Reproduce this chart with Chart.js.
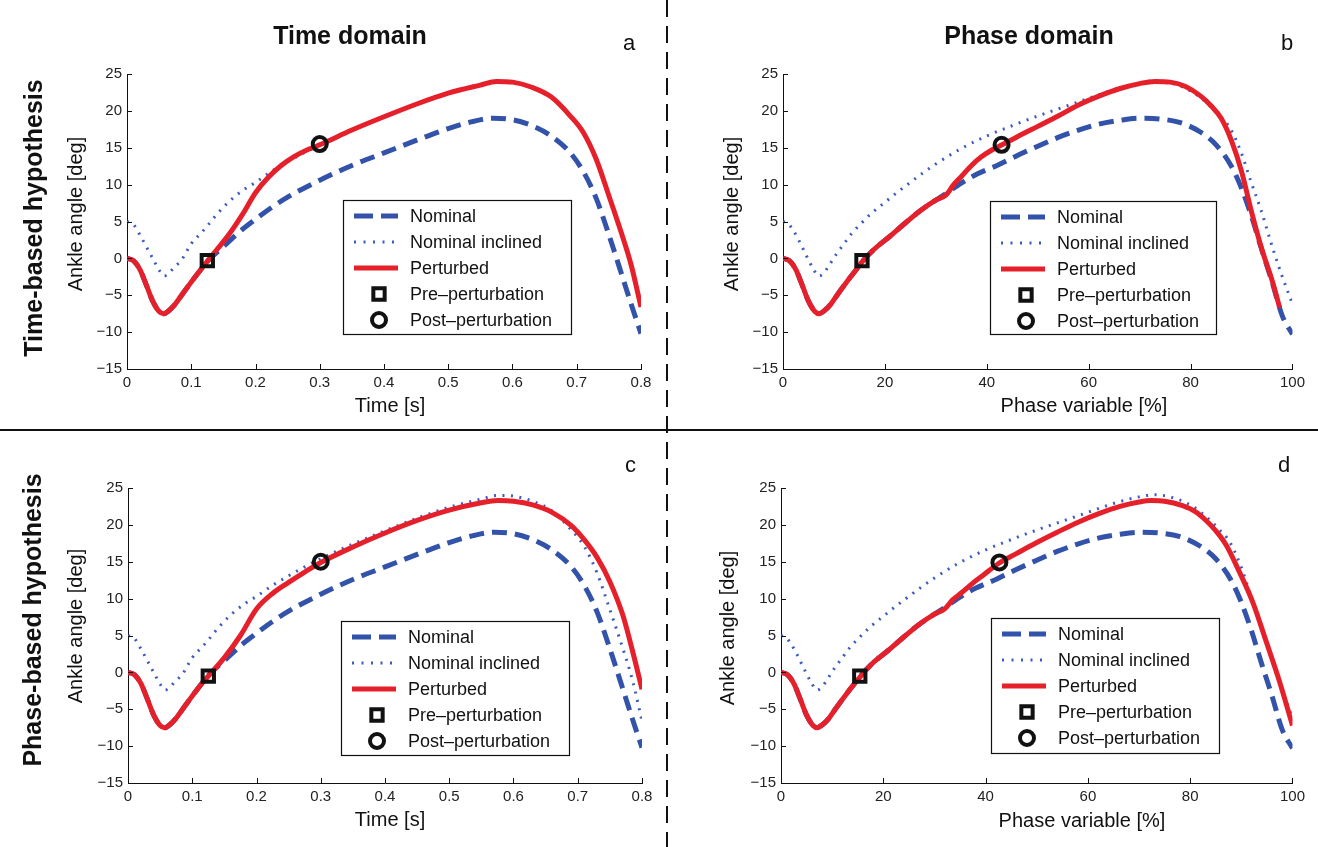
<!DOCTYPE html>
<html>
<head>
<meta charset="utf-8">
<script src="https://cdn.jsdelivr.net/npm/chart.js@4.4.1/dist/chart.umd.min.js"></script>
<style>
  body { margin: 0; background: #fff; }
  #page { position: relative; width: 1318px; height: 847px; overflow: hidden; background: #fff; }
  #page canvas { position: absolute; }
  #overlay { position: absolute; left: 0; top: 0; pointer-events: none; }
  #overlay text { font-family: 'Liberation Sans', Arial, sans-serif; fill: #111; }
</style>
</head>
<body>
<div id="page">
  <canvas id="pa" width="610" height="370" style="left:50px;top:55px"></canvas>
  <canvas id="pb" width="610" height="370" style="left:700px;top:55px"></canvas>
  <canvas id="pc" width="610" height="370" style="left:50px;top:469px"></canvas>
  <canvas id="pd" width="610" height="370" style="left:700px;top:469px"></canvas>
  <svg id="overlay" width="1318" height="847">
    <line x1="0" y1="430" x2="1318" y2="430" stroke="#111" stroke-width="2.2"/>
    <line x1="667" y1="0" x2="667" y2="847" stroke="#111" stroke-width="2" stroke-dasharray="17 9"/>
    <text x="350" y="44" text-anchor="middle" font-size="25" font-weight="bold">Time domain</text>
    <text x="1029" y="44" text-anchor="middle" font-size="25" font-weight="bold">Phase domain</text>
    <text x="623" y="50" font-size="22">a</text>
    <text x="1281" y="50" font-size="22">b</text>
    <text x="625" y="472" font-size="22">c</text>
    <text x="1278" y="472" font-size="22">d</text>
    <text transform="translate(42,218) rotate(-90)" text-anchor="middle" font-size="25" font-weight="bold">Time-based hypothesis</text>
    <text transform="translate(41,620) rotate(-90)" text-anchor="middle" font-size="25" font-weight="bold">Phase-based hypothesis</text>
    <text transform="translate(82,214) rotate(-90)" text-anchor="middle" font-size="20">Ankle angle [deg]</text>
    <text transform="translate(738,214) rotate(-90)" text-anchor="middle" font-size="20">Ankle angle [deg]</text>
    <text transform="translate(82,626) rotate(-90)" text-anchor="middle" font-size="20">Ankle angle [deg]</text>
    <text transform="translate(734,628) rotate(-90)" text-anchor="middle" font-size="20">Ankle angle [deg]</text>
    <text x="390" y="412" text-anchor="middle" font-size="20">Time [s]</text>
    <text x="1084" y="412" text-anchor="middle" font-size="20">Phase variable [%]</text>
    <text x="390" y="826" text-anchor="middle" font-size="20">Time [s]</text>
    <text x="1082" y="827" text-anchor="middle" font-size="20">Phase variable [%]</text>
  </svg>
</div>
<script>
// tick values
const xTicksTime = [0, 0.1, 0.2, 0.3, 0.4, 0.5, 0.6, 0.7, 0.8];
const xTicksPhase = [0, 20, 40, 60, 80, 100];
const yTicks = [-15, -10, -5, 0, 5, 10, 15, 20, 25];

// time domain (a, c) - time in s, angle in deg
const nomTimeT = [0, 0.01, 0.02, 0.03, 0.04, 0.05, 0.057, 0.065, 0.075, 0.085, 0.1, 0.115, 0.125, 0.15, 0.175, 0.2, 0.225, 0.25, 0.3, 0.35, 0.4, 0.45, 0.5, 0.54, 0.57, 0.6, 0.63, 0.66, 0.69, 0.71, 0.73, 0.75, 0.77, 0.785, 0.8];
const nomTimeV = [0, -0.3, -1.5, -3.6, -5.8, -7.2, -7.5, -7.1, -6.2, -5.0, -3.2, -1.5, -0.4, 1.6, 3.6, 5.3, 6.9, 8.3, 10.6, 12.6, 14.3, 16.0, 17.6, 18.6, 19.0, 18.8, 18.0, 16.6, 14.3, 11.8, 8.2, 3.2, -2.2, -6.3, -10.2];

const incTimeT = [0, 0.01, 0.02, 0.03, 0.04, 0.05, 0.058, 0.065, 0.075, 0.085, 0.1, 0.115, 0.125, 0.14, 0.16, 0.18, 0.2, 0.225, 0.25, 0.275, 0.3, 0.35, 0.4, 0.45, 0.5, 0.55, 0.575, 0.6, 0.63, 0.66, 0.69, 0.71, 0.73, 0.75, 0.77, 0.785, 0.8];
const incTimeV = [5.0, 4.6, 3.2, 1.6, 0, -1.6, -2.4, -2.0, -1.1, -0.2, 2.0, 3.4, 4.4, 6.0, 7.8, 9.2, 10.3, 11.8, 13.1, 14.3, 15.4, 17.4, 19.2, 20.9, 22.4, 23.5, 24.0, 23.9, 23.2, 21.9, 19.3, 17.1, 13.5, 8.5, 3.3, -1.0, -6.6];

const pertAT = [0, 0.01, 0.02, 0.03, 0.04, 0.05, 0.057, 0.065, 0.075, 0.085, 0.1, 0.115, 0.125, 0.14, 0.16, 0.18, 0.2, 0.22, 0.24, 0.26, 0.28, 0.3, 0.35, 0.4, 0.45, 0.5, 0.55, 0.575, 0.6, 0.63, 0.66, 0.69, 0.71, 0.73, 0.75, 0.77, 0.785, 0.8];
const pertAV = [0, -0.3, -1.5, -3.6, -5.8, -7.2, -7.5, -7.1, -6.2, -5.0, -3.2, -1.5, -0.4, 1.2, 3.4, 6.0, 8.9, 11.0, 12.6, 13.8, 14.7, 15.4, 17.4, 19.2, 20.9, 22.4, 23.5, 24.0, 23.9, 23.2, 21.9, 19.3, 17.1, 13.5, 8.5, 3.3, -1.0, -6.6];

const pertCT = [0, 0.01, 0.02, 0.03, 0.04, 0.05, 0.057, 0.065, 0.075, 0.085, 0.1, 0.115, 0.125, 0.15, 0.175, 0.2, 0.225, 0.25, 0.275, 0.3, 0.35, 0.4, 0.45, 0.5, 0.55, 0.575, 0.6, 0.63, 0.66, 0.69, 0.71, 0.73, 0.75, 0.77, 0.785, 0.8];
const pertCV = [0, -0.3, -1.5, -3.6, -5.8, -7.2, -7.5, -7.1, -6.2, -5.0, -3.2, -1.5, -0.5, 2.0, 5.0, 8.6, 10.7, 12.2, 13.6, 14.9, 17.0, 18.9, 20.6, 22.0, 23.0, 23.3, 23.2, 22.7, 21.7, 19.9, 18.0, 15.6, 12.3, 7.8, 3.0, -2.3];

// phase domain (b, d) - phase in %, angle in deg
const nomPhaseP = [0, 1.25, 2.5, 3.75, 5, 6.25, 7.1, 8.1, 9.4, 10.6, 12.5, 14.4, 15.6, 18, 21, 24, 27, 30, 32, 35, 38, 42, 46, 50, 54, 58, 62, 66, 70, 74, 78, 82, 85, 88, 90, 92, 94, 96, 98, 100];
const nomPhaseV = [0, -0.3, -1.5, -3.6, -5.8, -7.2, -7.5, -7.1, -6.2, -5.0, -3.2, -1.5, -0.4, 1.3, 3.0, 4.8, 6.5, 7.9, 8.8, 10.2, 11.4, 12.6, 13.95, 15.2, 16.4, 17.4, 18.2, 18.7, 19.0, 18.9, 18.4, 17.1, 15.4, 12.5, 9.5, 5.6, 1.1, -3.2, -7.8, -10.3];

const incPhaseP = [0, 1, 2, 3, 4, 5, 6, 7, 8, 9, 10.5, 12, 13.5, 15, 17.5, 20, 22.5, 25, 27.5, 30, 35, 40, 45, 50, 55, 60, 65, 70, 73, 76, 80, 83, 85.5, 87.7, 89.9, 91.8, 93.8, 95.7, 97.7, 100];
const incPhaseV = [5.0, 4.7, 3.8, 2.6, 1.2, -0.2, -1.5, -2.4, -2.0, -1.0, 0.6, 2.0, 3.4, 4.5, 6.2, 7.6, 9.0, 10.3, 11.6, 12.8, 14.9, 16.6, 18.0, 19.3, 20.5, 21.7, 22.9, 23.8, 24.1, 23.8, 22.7, 21.2, 19.5, 17.7, 14.4, 10.5, 6.6, 2.3, -1.9, -6.2];

const pertBP = [0, 1.25, 2.5, 3.75, 5, 6.25, 7.1, 8.1, 9.4, 10.6, 12.5, 14.4, 15.6, 18, 21, 24, 27, 30, 32, 33.5, 35, 37, 39, 41, 43, 46, 50, 54, 58, 62, 66, 70, 73, 76, 79, 82, 84, 86, 88, 90, 92, 94, 96, 97.5];
const pertBV = [0, -0.3, -1.5, -3.6, -5.8, -7.2, -7.5, -7.1, -6.2, -5.0, -3.2, -1.5, -0.4, 1.3, 3.0, 4.8, 6.5, 7.9, 8.6, 10.0, 11.1, 12.6, 13.8, 14.7, 15.4, 16.5, 17.9, 19.3, 20.8, 22.0, 23.0, 23.7, 24.0, 23.9, 23.3, 22.0, 20.7, 19.0, 16.0, 11.8, 6.2, 1.2, -3.0, -6.7];

const pertDP = [0, 1.25, 2.5, 3.75, 5, 6.25, 7.1, 8.1, 9.4, 10.6, 12.5, 14.4, 15.6, 18, 21, 24, 27, 30, 32, 33.5, 35.3, 37.5, 39.4, 42.6, 46, 50, 54, 58.2, 62, 66.3, 70, 72.4, 75, 78.5, 81, 83.1, 85, 87, 89.5, 92.3, 94.8, 97.4, 100];
const pertDV = [0, -0.3, -1.5, -3.6, -5.8, -7.2, -7.5, -7.1, -6.2, -5.0, -3.2, -1.5, -0.5, 1.3, 3.0, 4.8, 6.5, 7.9, 8.6, 9.8, 10.8, 12.1, 13.1, 14.8, 16.1, 17.6, 19.0, 20.4, 21.5, 22.5, 23.1, 23.3, 23.2, 22.6, 21.8, 20.6, 19.2, 17.3, 13.8, 9.4, 4.3, -1.1, -7.2];

// pre / post perturbation markers [x, y] per panel
const markersA = { pre: [0.125, -0.3], post: [0.3, 15.5] };
const markersB = { pre: [15.5, -0.3], post: [42.9, 15.4] };
const markersC = { pre: [0.125, -0.5], post: [0.3, 15.0] };
const markersD = { pre: [15.4, -0.5], post: [42.7, 14.9] };

const BLUE = '#3353aa';
const DOT_BLUE = '#3a5cc0';
const RED = '#e5202a';
const INK = '#111';
const FONT = "'Liberation Sans', Arial, sans-serif";

const pts = (xs, ys) => xs.map((x, i) => ({ x: x, y: ys[i] }));

const legendItems = [
    { label: 'Nominal', line: { color: BLUE, width: 5, dash: [19, 8] } },
    { label: 'Nominal inclined', line: { color: DOT_BLUE, width: 3, dash: [2, 7.5] } },
    { label: 'Perturbed', line: { color: RED, width: 5, dash: [] } },
    { label: 'Pre\u2013perturbation', marker: { pointStyle: 'rect', radius: 8 } },
    { label: 'Post\u2013perturbation', marker: { pointStyle: 'circle', radius: 7 } }
];

// inward ticks + boxed legend inside the plot
const panelDecor = {
    id: 'panelDecor',
    afterDraw(chart, args, opts) {
        const ctx = chart.ctx;
        const xs = chart.scales.x, ys = chart.scales.y;
        const area = chart.chartArea;
        ctx.save();
        ctx.strokeStyle = INK;
        ctx.lineWidth = 1;
        ctx.setLineDash([]);
        xs.ticks.forEach(t => {
            const px = Math.round(xs.getPixelForValue(t.value)) + 0.5;
            ctx.beginPath(); ctx.moveTo(px, area.bottom); ctx.lineTo(px, area.bottom - 5); ctx.stroke();
        });
        ys.ticks.forEach(t => {
            const py = Math.round(ys.getPixelForValue(t.value)) + 0.5;
            ctx.beginPath(); ctx.moveTo(area.left, py); ctx.lineTo(area.left + 5, py); ctx.stroke();
        });

        const b = opts.box;
        ctx.fillStyle = '#fff';
        ctx.fillRect(b.x, b.y, b.w, b.h);
        ctx.strokeStyle = INK;
        ctx.lineWidth = 1.2;
        ctx.strokeRect(b.x + 0.5, b.y + 0.5, b.w, b.h);
        ctx.font = '18px ' + FONT;
        ctx.textBaseline = 'middle';
        ctx.textAlign = 'left';
        legendItems.forEach((it, i) => {
            const cy = b.y + 16 + i * 26;
            if (it.line) {
                ctx.beginPath();
                ctx.setLineDash(it.line.dash);
                ctx.lineWidth = it.line.width;
                ctx.strokeStyle = it.line.color;
                ctx.moveTo(b.x + 11, cy);
                ctx.lineTo(b.x + 55, cy);
                ctx.stroke();
                ctx.setLineDash([]);
            } else {
                ctx.strokeStyle = INK;
                ctx.fillStyle = '#fff';
                ctx.lineWidth = 4;
                Chart.helpers.drawPoint(ctx, { pointStyle: it.marker.pointStyle, radius: it.marker.radius, borderWidth: 4, rotation: 0 }, b.x + 36, cy);
            }
            ctx.fillStyle = INK;
            ctx.fillText(it.label, b.x + 67, cy + 1);
        });
        ctx.restore();
    }
};

function makePanel(id, cfg) {
    const lineBase = { pointRadius: 0, cubicInterpolationMode: 'monotone', fill: false };
    const markerBase = {
        showLine: false, pointRadius: 8, pointBorderWidth: 4,
        pointBorderColor: INK, pointBackgroundColor: 'rgba(0,0,0,0)', borderColor: INK
    };
    const tickFont = { family: FONT, size: 15 };
    return new Chart(document.getElementById(id), {
        type: 'line',
        data: {
            datasets: [
                { ...markerBase, label: 'Pre', data: [{ x: cfg.markers.pre[0], y: cfg.markers.pre[1] }], pointStyle: 'rect', order: 0 },
                { ...markerBase, label: 'Post', data: [{ x: cfg.markers.post[0], y: cfg.markers.post[1] }], pointStyle: 'circle', pointRadius: 7, order: 0 },
                { ...lineBase, label: 'Perturbed', data: cfg.pert, borderColor: RED, borderWidth: 5, order: 1 },
                { ...lineBase, label: 'Nominal', data: cfg.nom, borderColor: BLUE, borderWidth: 5, borderDash: [15, 8], order: 2 },
                { ...lineBase, label: 'Nominal inclined', data: cfg.inc, borderColor: DOT_BLUE, borderWidth: 3, borderDash: [2, 6.5], order: 3 }
            ]
        },
        options: {
            responsive: false,
            animation: false,
            events: [],
            layout: { padding: { top: cfg.padTop, right: cfg.padRight, left: 0, bottom: 0 } },
            scales: {
                x: {
                    type: 'linear', min: cfg.xTicks[0], max: cfg.xTicks[cfg.xTicks.length - 1],
                    afterBuildTicks: s => { s.ticks = cfg.xTicks.map(v => ({ value: v })); },
                    afterFit: s => { s.height = cfg.xH; },
                    grid: { display: false, drawTicks: false },
                    border: { display: true, color: INK, width: 1 },
                    ticks: { font: tickFont, color: '#222', padding: 5, maxRotation: 0, autoSkip: false, callback: cfg.xFmt }
                },
                y: {
                    type: 'linear', min: -15, max: 25,
                    afterBuildTicks: s => { s.ticks = yTicks.map(v => ({ value: v })); },
                    afterFit: s => { s.width = cfg.yW; },
                    grid: { display: false, drawTicks: false },
                    border: { display: true, color: INK, width: 1 },
                    ticks: { font: tickFont, color: '#222', padding: 5, autoSkip: false,
                        callback: v => v < 0 ? '\u2212' + Math.abs(v) : String(v) }
                }
            },
            plugins: {
                legend: { display: false },
                tooltip: { enabled: false },
                panelDecor: { box: cfg.box }
            }
        },
        plugins: [panelDecor]
    });
}

const fmtTime = v => v === 0 ? '0' : Number(v).toFixed(1);
const fmtPhase = v => String(v);

makePanel('pa', {
    xTicks: xTicksTime, xFmt: fmtTime, yW: 77, xH: 56, padTop: 19, padRight: 19,
    nom: pts(nomTimeT, nomTimeV), inc: pts(incTimeT, incTimeV), pert: pts(pertAT, pertAV),
    markers: markersA, box: { x: 343 - 50, y: 200 - 55, w: 228, h: 134 }
});
makePanel('pb', {
    xTicks: xTicksPhase, xFmt: fmtPhase, yW: 83, xH: 56, padTop: 19, padRight: 15,
    nom: pts(nomPhaseP, nomPhaseV), inc: pts(incPhaseP, incPhaseV), pert: pts(pertBP, pertBV),
    markers: markersB, box: { x: 990 - 700, y: 201 - 55, w: 226, h: 133 }
});
makePanel('pc', {
    xTicks: xTicksTime, xFmt: fmtTime, yW: 78, xH: 56, padTop: 19, padRight: 18,
    nom: pts(nomTimeT, nomTimeV), inc: pts(incTimeT, incTimeV), pert: pts(pertCT, pertCV),
    markers: markersC, box: { x: 341 - 50, y: 621 - 469, w: 228, h: 134 }
});
makePanel('pd', {
    xTicks: xTicksPhase, xFmt: fmtPhase, yW: 81, xH: 56, padTop: 19, padRight: 15,
    nom: pts(nomPhaseP, nomPhaseV), inc: pts(incPhaseP, incPhaseV), pert: pts(pertDP, pertDV),
    markers: markersD, box: { x: 991 - 700, y: 618 - 469, w: 228, h: 135 }
});
</script>
</body>
</html>
